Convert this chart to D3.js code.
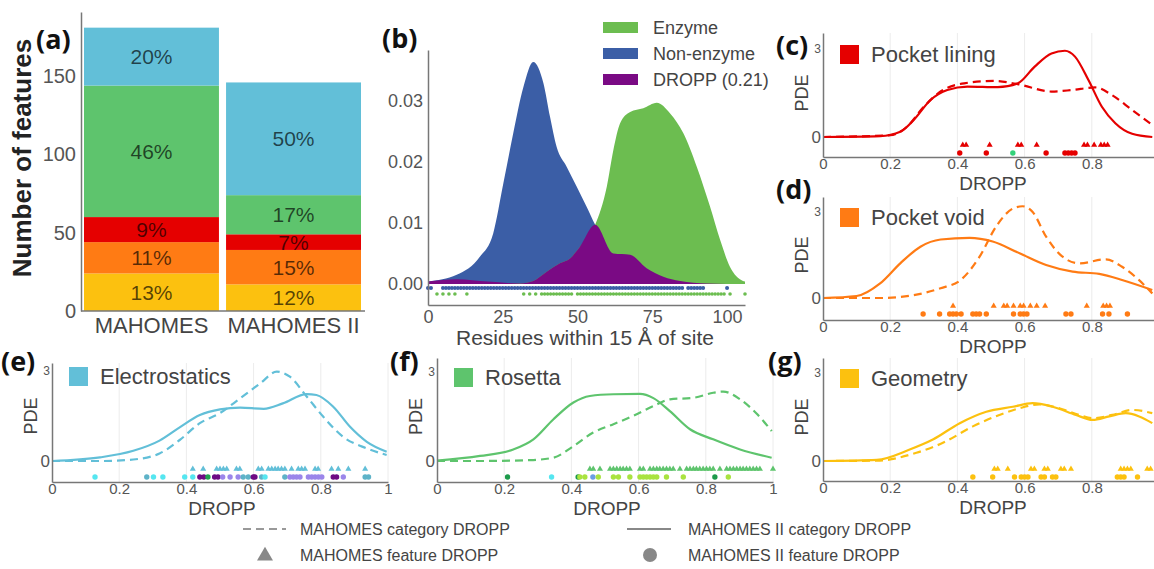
<!DOCTYPE html>
<html>
<head>
<meta charset="utf-8">
<script src="https://cdn.jsdelivr.net/npm/d3@7"></script>
<style>
  body { margin: 0; background: #fff; }
  svg { display: block; font-family: "Liberation Sans", Arial, sans-serif; }
</style>
</head>
<body>
<svg id="fig" width="1154" height="569"></svg>
<script>
// ---------- (a) feature counts, stacked bottom to top ----------
const featureGroups = ["Geometry", "Pocket void", "Pocket lining", "Rosetta", "Electrostatics"];
const models = ["MAHOMES", "MAHOMES II"];
const mahomesCounts = [24, 20, 16, 84, 37];
const mahomes2Counts = [17, 22, 10, 25, 72];
const mahomesPct = ["13%", "11%", "9%", "46%", "20%"];
const mahomes2Pct = ["12%", "15%", "7%", "17%", "50%"];
const countTicks = [0, 50, 100, 150];

// ---------- (b) residue density ----------
const densityTicksX = [0, 25, 50, 75, 100];
const densityTicksY = [0, 0.01, 0.02, 0.03];
const densityLegend = ["Enzyme", "Non-enzyme", "DROPP (0.21)"];
const nonEnzymeDensity = [[0,0.0004],[9.6,0.0015],[17.4,0.0045],[21.8,0.0083],[25.2,0.0165],[28.5,0.0247],[31.9,0.0323],[35.2,0.0364],[38.6,0.0329],[40.8,0.0274],[43,0.0225],[46.4,0.0192],[49.7,0.016],[53,0.0127],[55.9,0.0097],[62,0.005],[67.6,0.0048],[73.1,0.0026],[78.7,0.0012],[84.3,0.0005],[93.2,0.0001],[106,0]];
const enzymeDensity = [[0,0],[30.8,0.0001],[35.2,0.0005],[39.7,0.002],[44.1,0.0034],[47.5,0.0042],[50.8,0.0061],[55.9,0.0097],[59.8,0.016],[62,0.022],[64.2,0.0263],[67.6,0.0282],[72,0.0288],[76.5,0.0297],[80.9,0.028],[85.4,0.0247],[89.9,0.0192],[94.3,0.0127],[97.7,0.0072],[101,0.0028],[104.3,0.0008],[106,0.0004]];
const overlapDensity = [[0,0.0004],[9.6,0.0008],[20,0.0004],[30.8,0.0001],[35.2,0.0005],[39.7,0.002],[44.1,0.0034],[47.5,0.0042],[50.8,0.0061],[55.9,0.0097],[62,0.005],[67.6,0.0048],[73.1,0.0026],[78.7,0.0012],[84.3,0.0005],[93.2,0.0001],[106,0]];
const nonEnzymeRug = [0,1,5,6,7,8,9,10,11,12,13,14,15,16,17,18,19,20,21,22,23,24,25,26,27,28,29,30,31,32,33,34,35,36,37,38,39,40,41,42,43,44,45,46,47,48,49,50,51,52,53,54,55,56,57,58,59,60,61,62,63,64,65,66,67,68,69,70,71,72,73,74,75,76,77,78,79,80,81,82,83,84,85,87,88,89,90,91,92,100];
const enzymeRug = [3,5,7,9,13,32,34,36,38,39,40,41,42,43,44,45,46,47,48,50,51,52,53,54,55,56,57,58,59,60,61,62,63,64,65,66,67,68,69,70,71,72,73,74,75,76,77,78,79,80,81,82,83,84,85,86,87,88,89,90,91,92,93,94,95,96,97,98,99,101,106];

// ---------- (c)-(g) DROPP densities ----------
const droppTicks = [0, 0.2, 0.4, 0.6, 0.8, 1];
const pdeTicks = [0, 3];

const liningSolid = [[0,0],[0.17,0.03],[0.23,0.18],[0.27,0.58],[0.32,1.26],[0.37,1.6],[0.43,1.72],[0.52,1.7],[0.58,1.83],[0.63,2.4],[0.68,2.85],[0.72,2.94],[0.75,2.74],[0.79,1.94],[0.83,1.03],[0.87,0.47],[0.92,0.11],[0.98,0]];
const liningDashed = [[0,0],[0.2,0.06],[0.25,0.35],[0.3,1.03],[0.35,1.55],[0.42,1.83],[0.51,1.91],[0.58,1.8],[0.68,1.55],[0.74,1.6],[0.81,1.69],[0.86,1.43],[0.92,0.92],[0.98,0.41]];
const liningTri = [0.416,0.426,0.496,0.58,0.59,0.636,0.777,0.787,0.807,0.827,0.837,0.847];
const liningDots = [0.407,0.486,[0.565,"n"],0.664,0.72,0.73,0.74,0.75];

const voidSolid = [[0,0],[0.1,0.07],[0.17,0.51],[0.23,1.21],[0.29,1.79],[0.35,2.04],[0.436,2.1],[0.505,1.97],[0.585,1.56],[0.664,1.15],[0.743,0.92],[0.822,0.84],[0.89,0.63],[0.98,0.28]];
const voidDashed = [[0,0],[0.17,0],[0.27,0.1],[0.35,0.34],[0.41,0.63],[0.466,1.44],[0.515,2.49],[0.565,3.12],[0.594,3.2],[0.624,3.0],[0.664,2.14],[0.713,1.44],[0.763,1.21],[0.842,1.35],[0.89,1.09],[0.94,0.63],[0.98,0.16]];
const voidTri = [0.387,0.508,0.538,0.548,0.567,0.587,0.597,0.617,0.636,0.661,0.785,0.834,0.844,0.854];
const voidDots = [0.298,0.347,0.377,0.387,0.397,0.411,0.446,0.456,0.466,0.486,0.567,0.587,0.597,0.607,0.723,0.738,0.832,0.851,0.906];

const elecSolid = [[0,0],[0.143,0.12],[0.242,0.34],[0.32,0.68],[0.38,1.12],[0.44,1.53],[0.5,1.72],[0.56,1.78],[0.63,1.74],[0.687,1.92],[0.758,2.23],[0.787,2.2],[0.837,1.81],[0.887,1.14],[0.937,0.64],[0.996,0.31]];
const elecDashed = [[0,0],[0.143,0],[0.242,0.05],[0.32,0.25],[0.38,0.7],[0.44,1.26],[0.5,1.6],[0.56,2.09],[0.62,2.59],[0.669,2.98],[0.708,2.81],[0.758,2.15],[0.807,1.48],[0.867,0.8],[0.937,0.42],[0.996,0.2]];
const elecTri = [0.419,0.45,0.49,0.5,0.51,0.52,0.549,0.559,0.614,0.624,0.644,0.654,0.664,0.673,0.683,0.693,0.713,0.733,0.743,0.753,0.783,0.792,0.832,0.852,0.882,0.932];
const elecDots = [[0.128,"c"],[0.282,"t"],[0.302,"c"],[0.33,"c"],[0.395,"c"],[0.419,"c"],[0.44,"p"],[0.452,"p"],[0.464,"g"],[0.484,"p"],[0.494,"p"],[0.508,"v"],[0.53,"v"],[0.554,"v"],[0.569,"t"],[0.584,"t"],[0.599,"p"],[0.604,"p"],[0.624,"t"],[0.634,"c"],[0.693,"t"],[0.708,"v"],[0.718,"v"],[0.728,"v"],[0.738,"v"],[0.763,"v"],[0.773,"v"],[0.783,"v"],[0.793,"v"],[0.803,"v"],[0.837,"p"],[0.847,"p"],[0.867,"v"],[0.932,"t"],[0.942,"t"]];

const rosettaSolid = [[0,0.01],[0.128,0.17],[0.227,0.39],[0.287,0.73],[0.346,1.4],[0.406,1.97],[0.455,2.19],[0.525,2.25],[0.604,2.26],[0.644,2.12],[0.693,1.68],[0.753,1.07],[0.822,0.73],[0.902,0.39],[0.996,0.11]];
const rosettaDashed = [[0,0],[0.128,0],[0.277,0.03],[0.346,0.11],[0.406,0.5],[0.465,0.96],[0.525,1.24],[0.584,1.52],[0.644,1.85],[0.693,2.08],[0.763,2.13],[0.822,2.3],[0.852,2.34],[0.902,2.08],[0.951,1.6],[0.996,1.01]];
const rosettaTri = [0.455,0.465,0.485,0.515,0.525,0.535,0.545,0.554,0.564,0.574,0.604,0.614,0.634,0.644,0.654,0.663,0.673,0.683,0.693,0.703,0.723,0.743,0.753,0.763,0.772,0.782,0.792,0.802,0.812,0.822,0.842,0.862,0.872,0.882,0.892,0.902,0.911,0.921,0.931,0.941,0.951,0.961,1.0];
const rosettaDots = [[0.21,"d"],[0.341,"c"],[0.42,"d"],[0.425,"l"],[0.44,"l"],[0.464,"b"],[0.48,"l"],[0.525,"l"],[0.54,"l"],[0.574,"l"],[0.604,"l"],[0.614,"l"],[0.624,"l"],[0.634,"l"],[0.644,"l"],[0.654,"l"],[0.683,"l"],[0.733,"l"],[0.827,"d"],[0.867,"l"]];

const geoSolid = [[0,0],[0.16,0.04],[0.258,0.39],[0.327,0.73],[0.407,1.29],[0.486,1.68],[0.565,1.85],[0.624,1.97],[0.683,1.85],[0.753,1.57],[0.802,1.4],[0.852,1.52],[0.901,1.63],[0.941,1.52],[0.98,1.29]];
const geoDashed = [[0,0],[0.16,0.01],[0.278,0.28],[0.357,0.62],[0.446,1.18],[0.525,1.57],[0.585,1.8],[0.644,1.93],[0.703,1.8],[0.763,1.57],[0.802,1.46],[0.861,1.57],[0.921,1.74],[0.98,1.63]];
const geoTri = [0.51,0.52,0.55,0.619,0.629,0.659,0.669,0.708,0.718,0.738,0.886,0.896,0.906,0.916,0.965,0.975];
const geoDots = [0.446,0.505,0.57,0.59,0.6,0.61,0.649,0.659,0.683,0.693,0.876,0.886,0.896,0.936];

const bottomLegend = ["MAHOMES category DROPP", "MAHOMES II category DROPP", "MAHOMES feature DROPP", "MAHOMES II feature DROPP"];

// ---------- drawing ----------
const W = 1154;
const svg = d3.select("#fig");
svg.append("rect").attr("width", W).attr("height", 569).attr("fill", "#fff");

const groupColor = d3.scaleOrdinal()
  .domain(featureGroups)
  .range(["#fcc10f", "#ff7b14", "#e50000", "#5ec46d", "#62bfd8"]);
const subColor = { c: "#55e6f0", t: "#5eb3c8", p: "#6e0a84", g: "#1fa24f", v: "#9b86ea",
                   d: "#1d9a4b", l: "#a9e33f", b: "#6b9ee3", n: "#34d27a" };
const axisGrey = "#777", tickGrey = "#555", textGrey = "#444";

function styleAxis(g, size) {
  g.select(".domain").attr("stroke", axisGrey).attr("stroke-width", 1.5);
  g.selectAll(".tick text").attr("fill", tickGrey).style("font-size", size + "px")
    .style("font-family", '"Liberation Sans", Arial, sans-serif');
}

function panelLetter(txt, x, y) {
  svg.append("text").attr("x", x).attr("y", y)
    .style("font-family", '"Open Sans", sans-serif').style("font-weight", "700")
    .style("font-size", "27px").attr("fill", "#111").text(txt);
}

// ---- (a)
const xa = d3.scaleBand().domain(models).range([84, 361]).paddingInner(0.05);
const ya = d3.scaleLinear().domain([0, 191]).range([311, 12]);
const stacks = [mahomesCounts, mahomes2Counts];
const pcts = [mahomesPct, mahomes2Pct];

models.forEach((m, i) => {
  let base = 0;
  stacks[i].forEach((v, j) => {
    const y0 = ya(base), y1 = ya(base + v);
    svg.append("rect")
      .attr("x", xa(m)).attr("y", y1)
      .attr("width", xa.bandwidth()).attr("height", y0 - y1)
      .attr("fill", groupColor(featureGroups[j]));
    svg.append("text")
      .attr("x", xa(m) + xa.bandwidth() / 2).attr("y", (y0 + y1) / 2 + 7.5)
      .attr("text-anchor", "middle").style("font-size", "21px")
      .attr("fill", "#000").attr("fill-opacity", 0.66)
      .text(pcts[i][j]);
    base += v;
  });
});

const yAxisA = svg.append("g").attr("transform", "translate(81,0)")
  .call(d3.axisLeft(ya).tickValues(countTicks).tickSize(0).tickPadding(5).tickSizeOuter(0));
styleAxis(yAxisA, 20);
svg.append("line").attr("x1", 81).attr("x2", 365).attr("y1", 311).attr("y2", 311)
  .attr("stroke", axisGrey).attr("stroke-width", 1.5);
const xAxisA = svg.append("g").attr("transform", "translate(0,311)")
  .call(d3.axisBottom(xa).tickSize(0).tickPadding(6));
xAxisA.select(".domain").remove();
xAxisA.selectAll(".tick text").attr("fill", textGrey).style("font-size", "22px")
  .style("font-family", '"Liberation Sans", Arial, sans-serif');

svg.append("text").attr("transform", "translate(31,158) rotate(-90)")
  .attr("text-anchor", "middle").style("font-size", "26px").style("font-weight", "bold")
  .attr("fill", "#222").text("Number of features");
panelLetter("(a)", 36, 49);

// ---- (b)
const xb = d3.scaleLinear().domain([0, 106]).range([428, 745]);
const yb = d3.scaleLinear().domain([-0.00344, 0.03836]).range([305, 50]);
const areaB = d3.area().curve(d3.curveMonotoneX)
  .x(d => xb(d[0])).y0(yb(0)).y1(d => yb(d[1]));
const densColors = { enzyme: "#6cbd50", non: "#3b5ea6", overlap: "#7a0a84" };

svg.append("path").attr("d", areaB(nonEnzymeDensity)).attr("fill", densColors.non);
svg.append("path").attr("d", areaB(enzymeDensity)).attr("fill", densColors.enzyme);
svg.append("path").attr("d", areaB(overlapDensity)).attr("fill", densColors.overlap);

svg.append("g").selectAll("circle").data(nonEnzymeRug).join("circle")
  .attr("cx", d => xb(d)).attr("cy", yb(0) + 4).attr("r", 2).attr("fill", densColors.non);
svg.append("g").selectAll("circle").data(enzymeRug).join("circle")
  .attr("cx", d => xb(d)).attr("cy", yb(0) + 10).attr("r", 1.8).attr("fill", densColors.enzyme);

const yAxisB = svg.append("g").attr("transform", "translate(428,0)")
  .call(d3.axisLeft(yb).tickValues(densityTicksY).tickFormat(d3.format(".2f"))
    .tickSize(0).tickPadding(5).tickSizeOuter(0));
styleAxis(yAxisB, 18);
const xAxisB = svg.append("g").attr("transform", "translate(0,305)")
  .call(d3.axisBottom(xb).tickValues(densityTicksX).tickSize(0).tickPadding(5).tickSizeOuter(0));
styleAxis(xAxisB, 18);
svg.append("text").attr("x", 585).attr("y", 345).attr("text-anchor", "middle")
  .style("font-size", "21px").attr("fill", textGrey).text("Residues within 15 Å of site");

const legB = svg.append("g").attr("transform", "translate(603,22)");
[densColors.enzyme, densColors.non, densColors.overlap].forEach((c, i) => {
  legB.append("rect").attr("x", 0).attr("y", i * 26).attr("width", 35).attr("height", 11).attr("fill", c);
  legB.append("text").attr("x", 50).attr("y", i * 26 + 12).style("font-size", "18px")
    .attr("fill", textGrey).text(densityLegend[i]);
});
panelLetter("(b)", 382, 48);

// ---- (c)-(g)
const pdePanels = [
  { name: "Pocket lining", letter: "(c)", lx: 776, ly: 55, x0: 823, top: 33, bottom: 157, zero: 137, three: 49,
    solid: liningSolid, dashed: liningDashed, tri: liningTri, dots: liningDots },
  { name: "Pocket void", letter: "(d)", lx: 776, ly: 199, x0: 823, top: 197, bottom: 320, zero: 298, three: 212,
    solid: voidSolid, dashed: voidDashed, tri: voidTri, dots: voidDots },
  { name: "Electrostatics", letter: "(e)", lx: 1, ly: 371, x0: 52, top: 363, bottom: 482, zero: 461, three: 371,
    solid: elecSolid, dashed: elecDashed, tri: elecTri, dots: elecDots },
  { name: "Rosetta", letter: "(f)", lx: 390, ly: 371, x0: 437, top: 358, bottom: 482, zero: 461, three: 372,
    solid: rosettaSolid, dashed: rosettaDashed, tri: rosettaTri, dots: rosettaDots },
  { name: "Geometry", letter: "(g)", lx: 768, ly: 371, x0: 823, top: 358, bottom: 481, zero: 461, three: 373,
    solid: geoSolid, dashed: geoDashed, tri: geoTri, dots: geoDots }
];

const triangle = d3.symbol().type(d3.symbolTriangle).size(16);

pdePanels.forEach(p => {
  const color = groupColor(p.name);
  const x = d3.scaleLinear().domain([0, 1]).range([p.x0, p.x0 + 336]);
  const unit = (p.zero - p.three) / 3;
  const y = d3.scaleLinear()
    .domain([(p.zero - p.bottom) / unit, (p.zero - p.top) / unit])
    .range([p.bottom, p.top]);
  const g = svg.append("g");
  const visTicks = droppTicks.filter(t => x(t) <= W);

  g.selectAll(".grid").data(visTicks.filter(t => t > 0)).join("line")
    .attr("x1", d => x(d)).attr("x2", d => x(d))
    .attr("y1", p.top).attr("y2", p.bottom)
    .attr("stroke", "#ececec").attr("stroke-width", 1);

  const line = d3.line().curve(d3.curveMonotoneX).x(d => x(d[0])).y(d => y(d[1]));
  g.append("path").attr("d", line(p.dashed)).attr("fill", "none")
    .attr("stroke", color).attr("stroke-width", 2.2).attr("stroke-dasharray", "8,5");
  g.append("path").attr("d", line(p.solid)).attr("fill", "none")
    .attr("stroke", color).attr("stroke-width", 2.2);

  g.selectAll(".tri").data(p.tri).join("path")
    .attr("d", triangle)
    .attr("transform", d => `translate(${x(d)},${y(0) + 8})`)
    .attr("fill", color);
  g.selectAll(".dot").data(p.dots).join("circle")
    .attr("cx", d => x(Array.isArray(d) ? d[0] : d))
    .attr("cy", y(0) + 16).attr("r", 2.7)
    .attr("fill", d => Array.isArray(d) ? subColor[d[1]] : color);

  const xAx = g.append("g").attr("transform", `translate(0,${p.bottom})`)
    .call(d3.axisBottom(x).tickValues(visTicks).tickFormat(d3.format("~g"))
      .tickSize(0).tickPadding(1).tickSizeOuter(0));
  styleAxis(xAx, 15);
  const yAx = g.append("g").attr("transform", `translate(${p.x0},0)`)
    .call(d3.axisLeft(y).tickValues(pdeTicks).tickFormat(d3.format("d"))
      .tickSize(0).tickPadding(2).tickSizeOuter(0));
  styleAxis(yAx, 16);
  yAx.selectAll(".tick text").style("font-size", d => d === 3 ? "12px" : "17px");

  g.append("text").attr("x", p.x0 + 170).attr("y", p.bottom + 33).attr("text-anchor", "middle")
    .style("font-size", "19px").attr("fill", textGrey).text("DROPP");
  g.append("text").attr("transform", `translate(${p.x0 - 15},${(p.zero + p.three) / 2}) rotate(-90)`)
    .attr("text-anchor", "middle").style("font-size", "18px").attr("fill", textGrey).text("PDE");

  g.append("rect").attr("x", p.x0 + 17).attr("y", p.three - 4).attr("width", 19).attr("height", 19)
    .attr("fill", color);
  g.append("text").attr("x", p.x0 + 48).attr("y", p.three + 13)
    .style("font-size", "22px").attr("fill", textGrey).text(p.name);

  panelLetter(p.letter, p.lx, p.ly);
});

// ---- bottom legend
const legG = svg.append("g");
legG.append("line").attr("x1", 243).attr("x2", 286).attr("y1", 529).attr("y2", 529)
  .attr("stroke", "#999").attr("stroke-width", 2).attr("stroke-dasharray", "8,5");
legG.append("line").attr("x1", 627).attr("x2", 671).attr("y1", 529).attr("y2", 529)
  .attr("stroke", "#888").attr("stroke-width", 2);
legG.append("path").attr("d", d3.symbol().type(d3.symbolTriangle).size(110))
  .attr("transform", "translate(265,556)").attr("fill", "#888");
legG.append("circle").attr("cx", 650).attr("cy", 555).attr("r", 7).attr("fill", "#888");
[[300, 535], [688, 535], [300, 561], [688, 561]].forEach((pos, i) => {
  legG.append("text").attr("x", pos[0]).attr("y", pos[1]).style("font-size", "16px")
    .attr("fill", textGrey).text(bottomLegend[i]);
});
</script>
</body>
</html>
